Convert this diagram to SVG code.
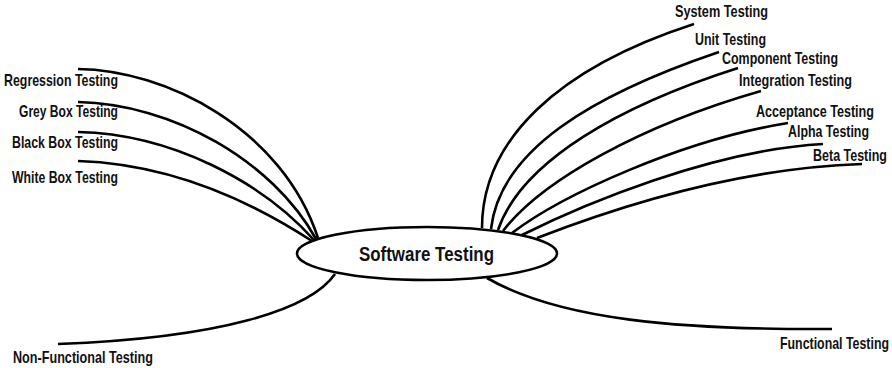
<svg xmlns="http://www.w3.org/2000/svg" width="892" height="368" viewBox="0 0 892 368">
  <style>
    .bg { fill: #ffffff; }
    .link { fill: none; stroke: #000000; stroke-width: 2.6; stroke-linecap: butt; }
    .hub { fill: #ffffff; stroke: #000000; stroke-width: 2.5; }
    .lbl { font-family: "Liberation Sans", Arial, sans-serif; font-size: 16px; font-weight: bold; fill: #111111; }
    .end { text-anchor: end; }
    .hub-lbl { font-family: "Liberation Sans", Arial, sans-serif; font-size: 21px; font-weight: bold; fill: #111111; }
  </style>
  <rect class="bg" x="0" y="0" width="892" height="368"/>

  <!-- branches from the central topic -->
  <g id="connectors">
    <path class="link" d="M78,69 C165,70 282,128 318,238"/>
    <path class="link" d="M78,102 C172,104 272,160 316,239"/>
    <path class="link" d="M78,132 C172,134 262,182 314,240"/>
    <path class="link" d="M78,161 C172,164 252,202 312,241"/>

    <path class="link" d="M482,228 C482,140 558,68 694,24"/>
    <path class="link" d="M491,229 C500,150 592,95 719,52"/>
    <path class="link" d="M498,230 C522,160 622,105 738,68"/>
    <path class="link" d="M503,231 C542,180 642,125 761,91"/>
    <path class="link" d="M512,233 C562,195 682,140 788,123"/>
    <path class="link" d="M522,235 C582,205 712,150 823,144"/>
    <path class="link" d="M537,238 C622,205 742,168 862,164"/>

    <path class="link" d="M335,274 C310,310 220,338 58,344"/>
    <path class="link" d="M487,278 C560,320 680,330 832,329"/>
  </g>

  <!-- labels are drawn in a condensed cut: scaled to 80% horizontally -->
  <g id="software-testing">
    <ellipse class="hub" cx="427" cy="253.5" rx="130" ry="26.5"/>
    <text class="hub-lbl" transform="translate(359,261) scale(0.8,1)" textLength="168.75" lengthAdjust="spacingAndGlyphs">Software Testing</text>
  </g>

  <g id="regression-testing">
    <text class="lbl" transform="translate(4,86) scale(0.8,1)" textLength="142.5" lengthAdjust="spacingAndGlyphs">Regression Testing</text>
  </g>
  <g id="grey-box-testing">
    <text class="lbl" transform="translate(19,117) scale(0.8,1)" textLength="123.75" lengthAdjust="spacingAndGlyphs">Grey Box Testing</text>
  </g>
  <g id="black-box-testing">
    <text class="lbl" transform="translate(12,148) scale(0.8,1)" textLength="132.5" lengthAdjust="spacingAndGlyphs">Black Box Testing</text>
  </g>
  <g id="white-box-testing">
    <text class="lbl" transform="translate(12,183) scale(0.8,1)" textLength="132.5" lengthAdjust="spacingAndGlyphs">White Box Testing</text>
  </g>

  <g id="system-testing">
    <text class="lbl end" transform="translate(768,17) scale(0.8,1)" textLength="116.25" lengthAdjust="spacingAndGlyphs">System Testing</text>
  </g>
  <g id="unit-testing">
    <text class="lbl end" transform="translate(766,45) scale(0.8,1)" textLength="88.75" lengthAdjust="spacingAndGlyphs">Unit Testing</text>
  </g>
  <g id="component-testing">
    <text class="lbl end" transform="translate(838,64) scale(0.8,1)" textLength="145" lengthAdjust="spacingAndGlyphs">Component Testing</text>
  </g>
  <g id="integration-testing">
    <text class="lbl end" transform="translate(852,86) scale(0.8,1)" textLength="141.25" lengthAdjust="spacingAndGlyphs">Integration Testing</text>
  </g>
  <g id="acceptance-testing">
    <text class="lbl end" transform="translate(874,117) scale(0.8,1)" textLength="147.5" lengthAdjust="spacingAndGlyphs">Acceptance Testing</text>
  </g>
  <g id="alpha-testing">
    <text class="lbl end" transform="translate(869,137) scale(0.8,1)" textLength="101.25" lengthAdjust="spacingAndGlyphs">Alpha Testing</text>
  </g>
  <g id="beta-testing">
    <text class="lbl end" transform="translate(887,161) scale(0.8,1)" textLength="92.5" lengthAdjust="spacingAndGlyphs">Beta Testing</text>
  </g>

  <g id="non-functional-testing">
    <text class="lbl" transform="translate(13,363) scale(0.8,1)" textLength="175" lengthAdjust="spacingAndGlyphs">Non-Functional Testing</text>
  </g>
  <g id="functional-testing">
    <text class="lbl end" transform="translate(889,349) scale(0.8,1)" textLength="136.25" lengthAdjust="spacingAndGlyphs">Functional Testing</text>
  </g>
</svg>
